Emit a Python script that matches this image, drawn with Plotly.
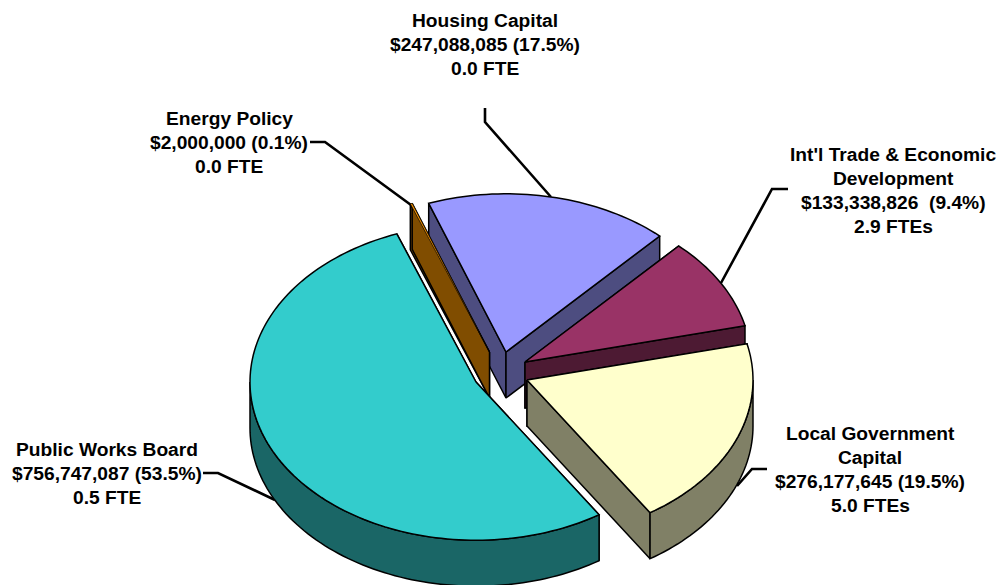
import math
import plotly.graph_objects as go

# ---- data ----
categories = ["Housing Capital", "Int'l Trade & Economic Development", "Local Government Capital",
              "Public Works Board", "Energy Policy"]
amounts = [247088085, 133338826, 276177645, 756747087, 2000000]
label_lines = [
    ["Housing Capital", "$247,088,085 (17.5%)", "0.0 FTE"],
    ["Int'l Trade & Economic", "Development", "$133,338,826\u00a0 (9.4%)", "2.9 FTEs"],
    ["Local Government", "Capital", "$276,177,645 (19.5%)", "5.0 FTEs"],
    ["Public Works Board", "$756,747,087 (53.5%)", "0.5 FTE"],
    ["Energy Policy", "$2,000,000 (0.1%)", "0.0 FTE"],
]

# ---- styles and layout ----
top_colors = ["#9999FF", "#993366", "#FFFFCC", "#33CCCC", "#FF9900"]
side_colors = ["#4D4D80", "#4D1A33", "#808066", "#1A6666", "#804D00"]
top_line = [1.5, 1.5, 1.5, 1.5, 0.7]
apex = [(506, 352), (525, 362), (527, 380), (476, 382), (489.5, 352)]  # exploded slice tips, px
label_x = [484.5, 893, 870, 107, 229]
label_y0 = [20, 154, 433, 449, 118]
leaders = [
    [(485, 108), (485, 122), (551, 197)],
    [(788, 189), (772, 189), (721, 283)],
    [(767, 469), (752, 469), (737, 486)],
    [(203, 473), (218, 473), (275, 500)],
    [(310, 142), (325, 142), (411, 205)],
]
RADIUS, TILT, DEPTH, START_DEG = 226, 0.70, 46, -20.0
draw_order = [0, 1, 2, 4, 3]
LINE_PITCH = 24

total = sum(amounts)
bounds = []
a = START_DEG
for v in amounts:
    bounds.append((a, a + v / total * 360))
    a += v / total * 360


def rim(tip, deg, drop=0):
    t = math.radians(deg)
    return tip[0] + RADIUS * math.sin(t), tip[1] - RADIUS * TILT * math.cos(t) + drop


def sweep(a0, a1):
    n = max(2, int((a1 - a0) / 1.5) + 1)
    return [a0 + (a1 - a0) * i / n for i in range(n + 1)]


fig = go.Figure()


def poly(points, color, name, width=1.5):
    fig.add_trace(go.Scatter(
        x=[p[0] for p in points] + [points[0][0]],
        y=[p[1] for p in points] + [points[0][1]],
        mode="lines", fill="toself", fillcolor=color,
        line=dict(color="black", width=width, simplify=False), name=name, hoverinfo="name", showlegend=False))


for path in leaders:
    fig.add_trace(go.Scatter(x=[p[0] for p in path], y=[p[1] for p in path], mode="lines",
                             line=dict(color="black", width=2.6), hoverinfo="skip", showlegend=False))

for i in draw_order:
    tip, (a0, a1), name = apex[i], bounds[i], categories[i]
    for edge in (a0, a1):
        poly([tip, rim(tip, edge), rim(tip, edge, DEPTH), (tip[0], tip[1] + DEPTH)], side_colors[i], name)
    w0, w1 = max(a0, 90), min(a1, 270)
    if w1 > w0:
        arc = sweep(w0, w1)
        poly([rim(tip, d) for d in arc] + [rim(tip, d, DEPTH) for d in reversed(arc)], side_colors[i], name)
    poly([tip] + [rim(tip, d) for d in sweep(a0, a1)], top_colors[i], name, top_line[i])

annotations = []
for lines, x, y0 in zip(label_lines, label_x, label_y0):
    for j, text in enumerate(lines):
        annotations.append(dict(x=x, y=y0 + j * LINE_PITCH, xref="x", yref="y", text=f"<b>{text}</b>", showarrow=False,
                                xanchor="center", yanchor="middle",
                                font=dict(family="Liberation Sans, Arial, sans-serif", size=19.2, color="black")))

fig.update_layout(
    width=1002, height=585, autosize=False,
    margin=dict(l=0, r=0, t=0, b=0),
    paper_bgcolor="white", plot_bgcolor="white",
    showlegend=False, annotations=annotations,
    xaxis=dict(range=[0, 1002], visible=False, fixedrange=True),
    yaxis=dict(range=[585, 0], visible=False, fixedrange=True),
)
fig.write_html("out.html", config={"displayModeBar": False},
               post_script="document.body.style.margin='0';document.body.style.overflow='hidden';")
